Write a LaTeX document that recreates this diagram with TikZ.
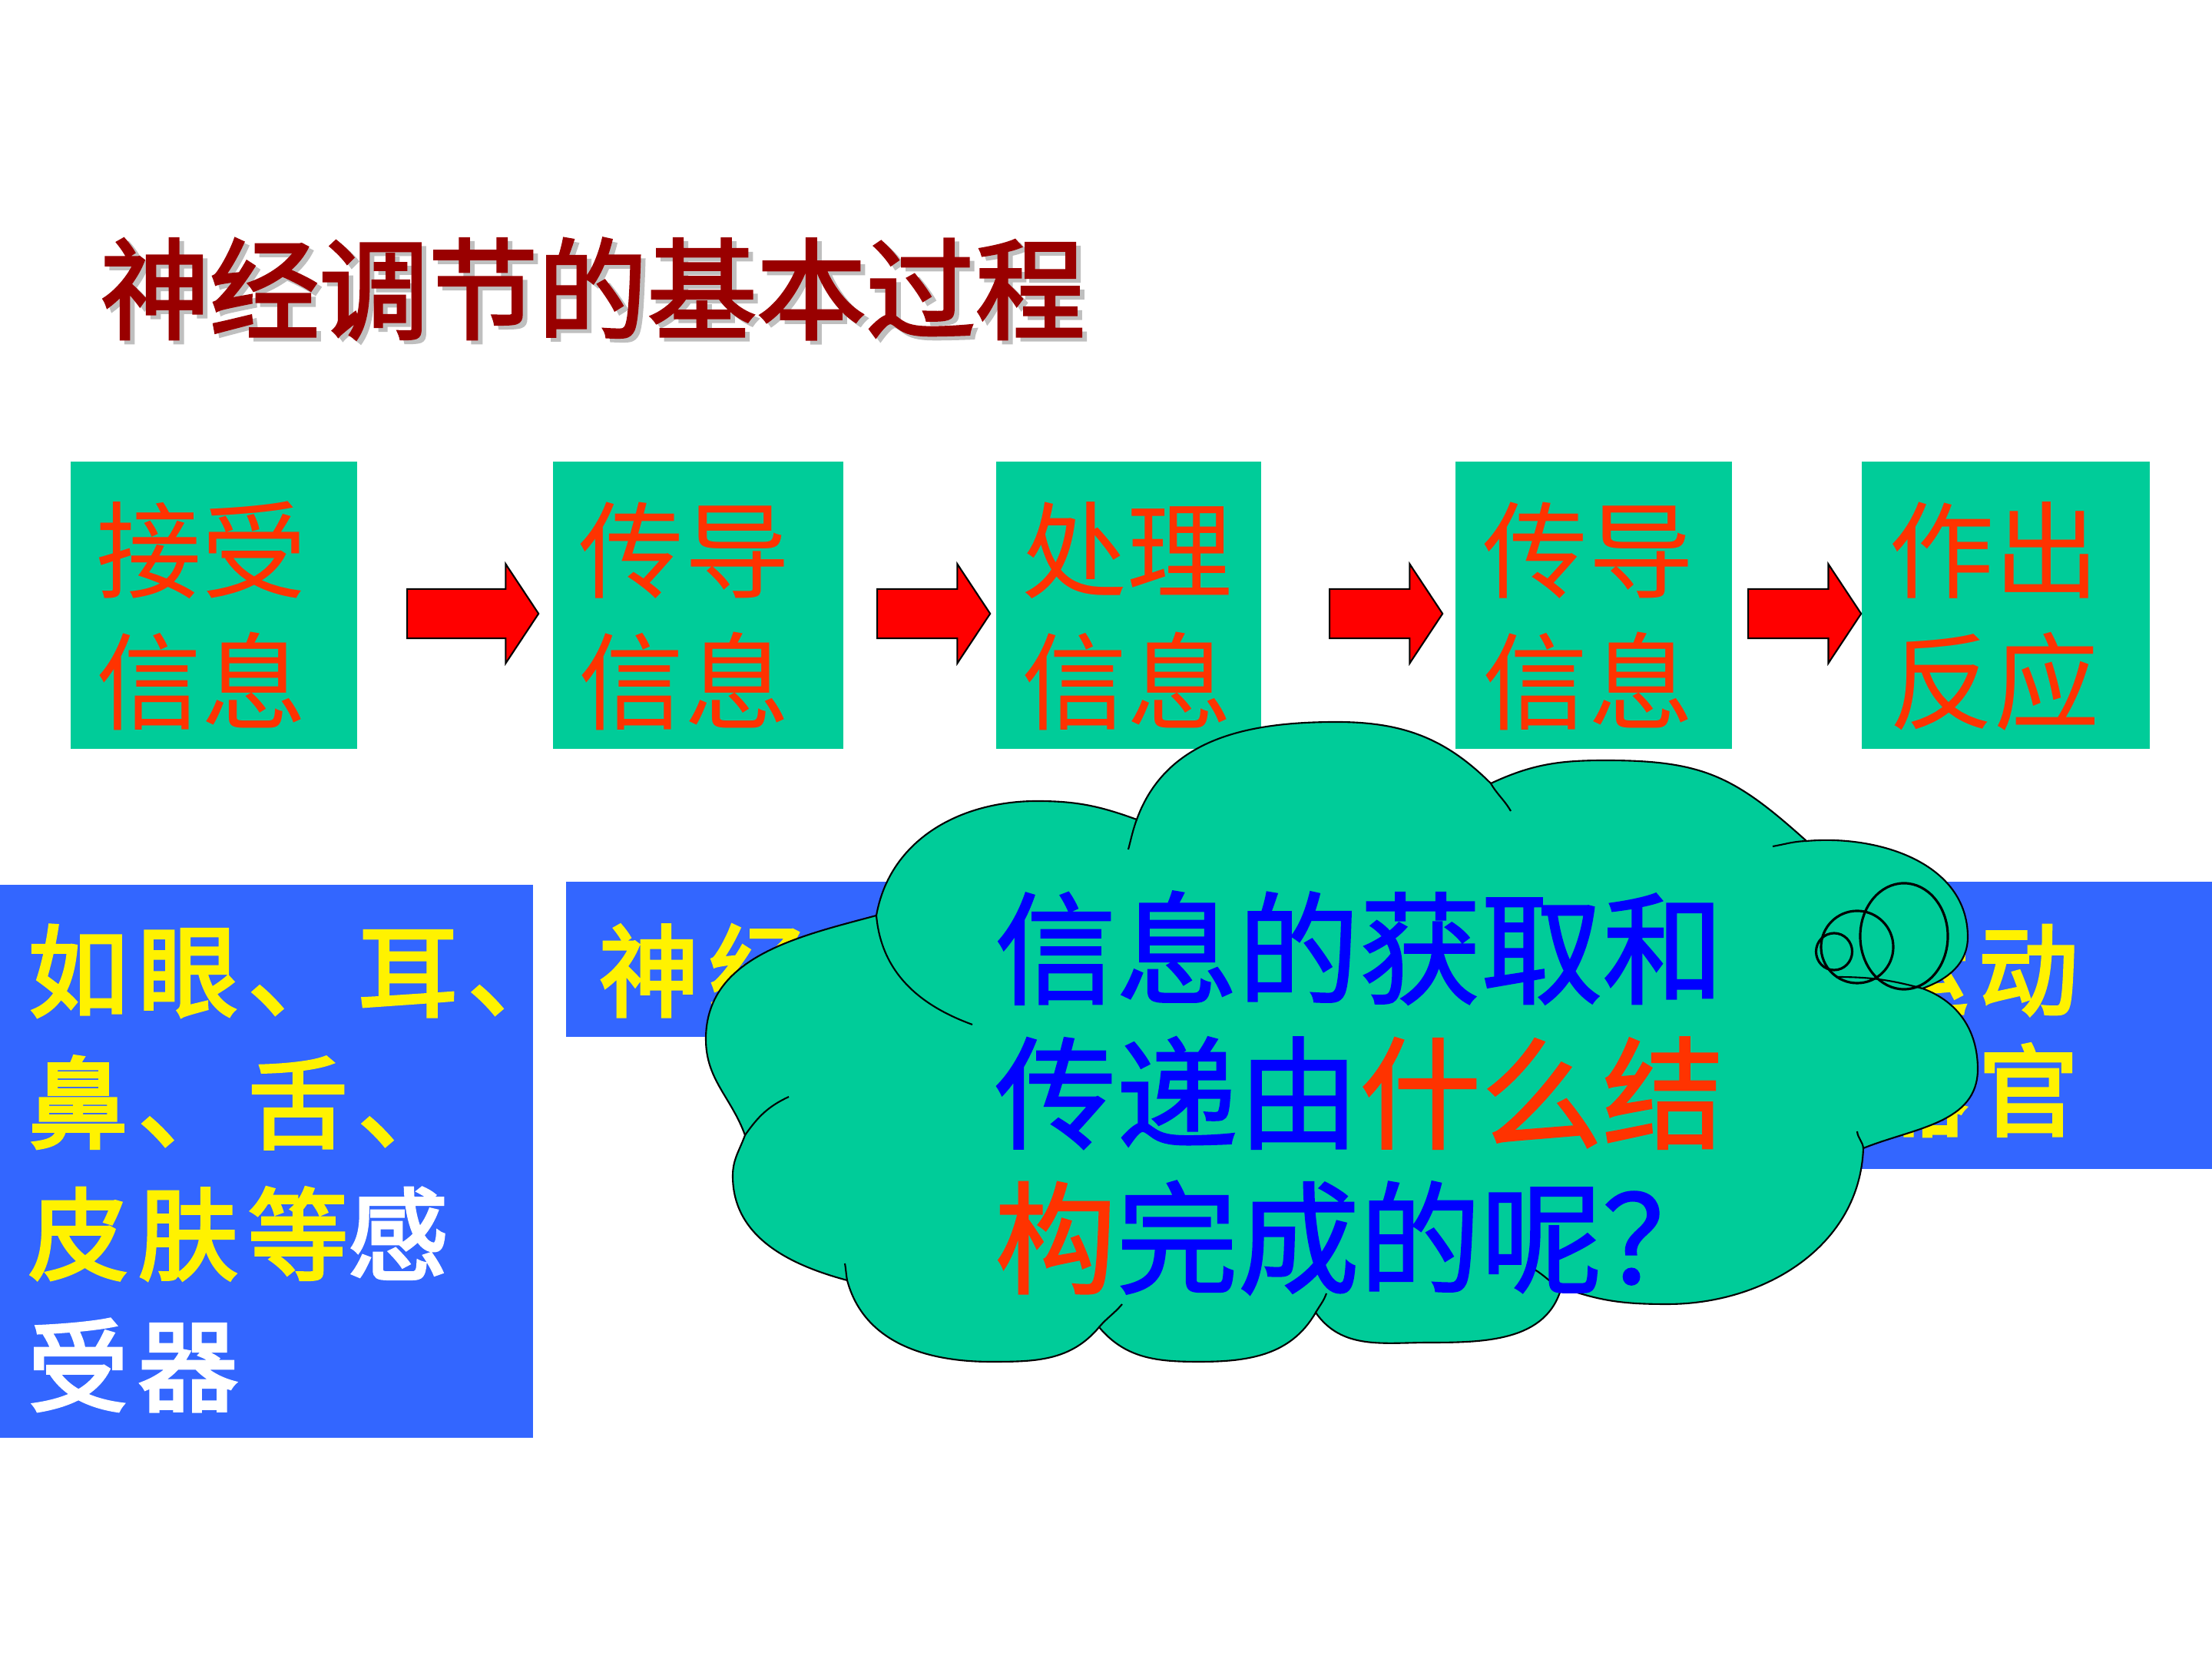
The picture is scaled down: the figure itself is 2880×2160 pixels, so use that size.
\documentclass[tikz,border=0pt]{standalone}
\usepackage{fontspec}
\usepackage{tikz}
\usetikzlibrary{positioning,calc,shapes.arrows}

\newfontfamily\cjk{Noto Sans CJK SC}
\newfontfamily\cjkbf{Noto Sans CJK SC}[FakeBold=1.5]
\newfontfamily\cjkttl{Noto Sans CJK SC}[FakeBold=2.5]
\newfontfamily\cjkheavy{Noto Sans CJK SC}[FakeBold=3,LetterSpace=10]

\definecolor{boxgreen}{RGB}{0,204,153}
\definecolor{boxblue}{RGB}{51,102,255}
\definecolor{labelred}{RGB}{255,51,0}
\definecolor{titlered}{RGB}{153,0,0}
\definecolor{arrowred}{RGB}{255,0,0}
\definecolor{askblue}{RGB}{0,0,255}

\tikzset{
  ttltext/.style={inner sep=0pt, text=titlered, font=\cjkttl\fontsize{40.5}{48}\selectfont},
  stepbox/.style={fill=boxgreen, minimum height=3.73cm, inner sep=0pt},
  steplbl/.style={inner sep=0pt, align=center, text=labelred,
    font=\cjk\fontsize{39}{48.6}\selectfont},
  blockarrow/.style={single arrow, fill=arrowred, draw=black, line width=0.6pt,
    minimum height=1.47cm, minimum width=1.27cm, single arrow head extend=0.325cm,
    single arrow tip angle=113, inner xsep=0pt, inner ysep=0.31cm, outer sep=0pt},
  organbox/.style={fill=boxblue, inner sep=0pt},
  organtext/.style={inner sep=0pt, align=left, text=yellow,
    font=\cjkheavy\fontsize{37}{48.7}\selectfont},
  cloudline/.style={draw=black, line width=0.6pt},
  tailline/.style={draw=black, line width=0.9pt},
  asktext/.style={inner sep=0pt, align=left, text=askblue,
    font=\cjkbf\fontsize{45}{53.6}\selectfont},
}

\begin{document}
\begin{tikzpicture}[x=0.01cm, y=0.01cm]
  \fill[white] (0,0) rectangle (2880,2160);
  \useasboundingbox (0,0) rectangle (2880,2160);

  \node[ttltext, text=gray!50, anchor=west] (ttlshade) at (136,1779) {神经调节的基本过程};
  \node[ttltext, anchor=west] (ttl) at ($(ttlshade.west)+(-6,5)$) {神经调节的基本过程};

  \node[stepbox, minimum width=3.73cm] (s1) at (278.5,1372) {};
  \node[stepbox, minimum width=3.78cm] (s2) at (909,1372) {};
  \node[stepbox, minimum width=3.45cm] (s3) at (1469.5,1372) {};
  \node[stepbox, minimum width=3.60cm] (s4) at (2075,1372) {};
  \node[stepbox, minimum width=3.75cm] (s5) at (2611.5,1372) {};

  \node[steplbl] (s1lbl) at ($(s1)+(-16,-14)$) {接受\\信息};
  \node[steplbl] (s2lbl) at ($(s2)+(-18,-14)$) {传导\\信息};
  \node[steplbl] (s3lbl) at ($(s3)+(-2,-14)$) {处理\\信息};
  \node[steplbl] (s4lbl) at ($(s4)+(-7,-14)$) {传导\\信息};
  \node[steplbl] (s5lbl) at ($(s5)+(-15,-14)$) {作出\\反应};

  \node[blockarrow, minimum height=1.71cm, left=0.18cm of s2, yshift=-0.11cm] (ar1) {};
  \node[blockarrow, left=0.07cm of s3, yshift=-0.11cm] (ar2) {};
  \node[blockarrow, left=0.16cm of s4, yshift=-0.11cm] (ar3) {};
  \node[blockarrow, left=0cm of s5, yshift=-0.11cm] (ar4) {};

  \node[organbox, minimum width=6.94cm, minimum height=7.2cm] (rcpt) at (347,648) {};
  \node[organbox, minimum width=4.63cm, minimum height=2.02cm] (cntr) at (968.5,911) {};
  \node[organbox, minimum width=5cm, minimum height=3.74cm] (effr) at (2630,825) {};

  \node[organtext, anchor=west] (rcptlbl) at ($(rcpt.west)+(37,-9)$)
    {如眼、耳、\\鼻、舌、\\皮肤等\textcolor{white}{感}\\\textcolor{white}{受器}};
  \node[organtext, anchor=west] (cntrlbl) at ($(cntr.west)+(43,-15)$) {神经};
  \node[organtext, anchor=west] (effrlbl) at (2432,818) {运动\\[-0.14cm]器官};

  \coordinate (c1) at (1141,968);
  \coordinate (c2) at (1480,1093);
  \coordinate (c3) at (1941,1140);
  \coordinate (c4) at (2352,1065);
  \coordinate (c5) at (2503,873);
  \coordinate (c6) at (2426,665);
  \coordinate (c7) at (2033,484);
  \coordinate (c8) at (1713,451);
  \coordinate (c9) at (1431,432);
  \coordinate (c10) at (1103,493);
  \coordinate (c11) at (970,682);

  \filldraw[cloudline, fill=boxgreen]
    (c1) to[out=80,in=180] (1350,1117) to[out=0,in=160] (c2)
    to[out=70,in=180] (1740,1220) to[out=0,in=135] (c3)
    to[out=25,in=180] (2090,1170) to[out=0,in=138,looseness=1.15] (c4)
    to[out=5,in=90] (2562,940) to[out=-90,in=20] (c5)
    to[out=-20,in=90] (2575,768) to[out=-90,in=22] (c6)
    to[out=-92,in=0] (2171,462) to[out=180,in=-20] (c7)
    to[out=-105,in=0] (1861,412) to[out=180,in=-55] (c8)
    to[out=-120,in=0] (1561,387) to[out=180,in=-50] (c9)
    to[out=-130,in=0] (1290,387) to[out=180,in=-75] (c10)
    to[out=165,in=-90] (954,629) to[out=90,in=-110] (c11)
    to[out=110,in=-90] (919,807) to[out=90,in=195] (c1) -- cycle;

  \draw[cloudline] (c1) to[out=-85,in=160] (1266,826);
  \draw[cloudline] (c2) to[out=250,in=75] (1469,1054);
  \draw[cloudline] (c3) to[out=-60,in=120] (1967,1104);
  \draw[cloudline] (c4) to[out=182,in=10] (2308,1058);
  \draw[cloudline] (c5) to[out=165,in=0] (2390,888);
  \draw[cloudline] (c6) to[out=95,in=-85] (2418,687);
  \draw[cloudline] (c7) to[out=160,in=-30] (1998,507);
  \draw[cloudline] (c8) to[out=60,in=-110] (1727,476);
  \draw[cloudline] (c9) to[out=50,in=-130] (1461,462);
  \draw[cloudline] (c10) to[out=100,in=-80] (1100,515);
  \draw[cloudline] (c11) to[out=55,in=-155] (1027,732);

  \draw[tailline] (2479,941) ellipse [x radius=0.57cm, y radius=0.69cm];
  \draw[tailline] (2418,927) ellipse [x radius=0.47cm, y radius=0.47cm];
  \draw[tailline] (2388,921) ellipse [x radius=0.235cm, y radius=0.24cm];

  \node[asktext] (ask) at (1770,737)
    {信息的获取和\\传递由\textcolor{labelred}{什么结}\\\textcolor{labelred}{构}完成的呢？};
\end{tikzpicture}
\end{document}
